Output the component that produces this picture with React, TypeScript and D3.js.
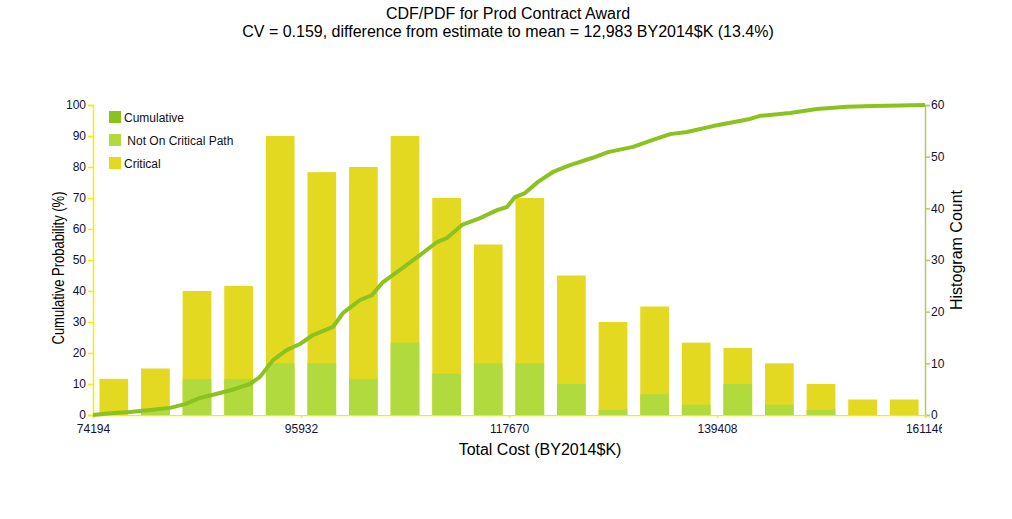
import React, { useEffect, useRef } from 'react';
import * as d3 from 'd3';

// histogram: 20 bins between the min and max cost
const binCount = 20;
const costMin = 74194;
const costMax = 161146;
const critical = [7, 8, 17, 18, 44, 37, 41, 40, 34, 23, 32, 21, 17, 17, 12, 7, 8, 5, 3, 3];
const notCritical = [0, 1, 7, 7, 10, 10, 7, 14, 8, 10, 10, 6, 1, 4, 2, 6, 2, 1, 0, 0];

// cumulative curve
const cumCost = [74194, 75971, 78061, 80151, 82241, 83809, 85377, 87467, 89035, 90602, 91647, 93006, 94469, 95827, 97186, 99276, 100321, 100739, 102098, 103352, 104502, 106278, 108369, 110145, 111190, 112758, 114639, 116416, 117461, 118297, 119342, 120701, 122268, 124045, 126344, 128016, 130629, 132406, 134496, 136273, 138990, 142857, 143902, 147037, 149859, 152995, 155712, 161146];
const cumPct = [0, 0.6, 1.0, 1.6, 2.3, 3.5, 5.5, 7.1, 8.4, 10.0, 12.3, 17.7, 21.0, 22.9, 25.8, 28.4, 32.9, 33.9, 37.1, 38.7, 42.9, 46.8, 51.6, 55.8, 57.1, 61.3, 63.5, 66.1, 67.1, 70.3, 71.6, 75.2, 78.4, 80.6, 82.9, 84.8, 86.5, 88.4, 90.6, 91.3, 93.2, 95.5, 96.5, 97.4, 98.7, 99.4, 99.7, 100];

const xTicks = [74194, 95932, 117670, 139408, 161146];
const pctTicks = [0, 10, 20, 30, 40, 50, 60, 70, 80, 90, 100];
const countTicks = [0, 10, 20, 30, 40, 50, 60];

const legendItems = [
  { label: 'Cumulative', color: '#8cc21f' },
  { label: ' Not On Critical Path', color: '#b1da3e' },
  { label: 'Critical', color: '#e2d920' },
];

const W = 1012;
const H = 519;
const left = 93;
const right = 925;
const top = 105;
const bottom = 415;
const font = 'Liberation Sans, Arial, sans-serif';

const App: React.FC = () => {
  const svgRef = useRef<SVGSVGElement>(null);

  useEffect(() => {
    if (!svgRef.current) return;
    const svg = d3.select(svgRef.current);
    svg.selectAll('*').remove();

    const x = d3.scaleLinear().domain([costMin, costMax]).range([left, right]);
    const yPct = d3.scaleLinear().domain([0, 100]).range([bottom, top]);
    const yCount = d3.scaleLinear().domain([0, 60]).range([bottom, top]);
    const binW = (costMax - costMin) / binCount;

    const bins = critical.map((c, i) => ({
      x0: costMin + i * binW,
      x1: costMin + (i + 1) * binW,
      nc: notCritical[i],
      total: c + notCritical[i],
    }));

    // title
    svg.append('text').attr('x', 508).attr('y', 19).attr('text-anchor', 'middle')
      .attr('font-family', font).attr('font-size', 16).text('CDF/PDF for Prod Contract Award');
    svg.append('text').attr('x', 508).attr('y', 37).attr('text-anchor', 'middle')
      .attr('font-family', font).attr('font-size', 16)
      .text('CV = 0.159, difference from estimate to mean = 12,983 BY2014$K (13.4%)');

    // bars
    const barFrac = 0.69;
    const bars = svg.append('g');
    bins.forEach(b => {
      const px0 = x(b.x0);
      const pw = x(b.x1) - px0;
      const bw = pw * barFrac;
      const bx = px0 + (pw - bw) / 2;
      bars.append('rect').attr('x', bx).attr('width', bw)
        .attr('y', yCount(b.total)).attr('height', bottom - yCount(b.total))
        .attr('fill', '#e2d920');
      if (b.nc > 0) {
        bars.append('rect').attr('x', bx).attr('width', bw)
          .attr('y', yCount(b.nc)).attr('height', bottom - yCount(b.nc))
          .attr('fill', '#b1da3e');
      }
    });

    // axes
    const leftAxis = svg.append('g').attr('transform', `translate(${left},0)`)
      .call(d3.axisLeft(yPct).tickValues(pctTicks).tickSize(5).tickPadding(2));
    leftAxis.selectAll('path, line').attr('stroke', '#f2f200').attr('stroke-width', 1.5);
    leftAxis.selectAll('text').attr('font-family', font).attr('font-size', 12).attr('fill', '#111133');

    const rightAxis = svg.append('g').attr('transform', `translate(${right},0)`)
      .call(d3.axisRight(yCount).tickValues(countTicks).tickSize(5).tickPadding(1));
    rightAxis.selectAll('path, line').attr('stroke', '#b3cc55').attr('stroke-width', 1.5);
    rightAxis.selectAll('text').attr('font-family', font).attr('font-size', 12).attr('fill', '#111133');

    svg.append('clipPath').attr('id', 'xclip').append('rect')
      .attr('x', 0).attr('y', 0).attr('width', 942).attr('height', H);
    const bottomAxis = svg.append('g').attr('transform', `translate(0,${bottom})`)
      .attr('clip-path', 'url(#xclip)')
      .call(d3.axisBottom(x).tickValues(xTicks).tickFormat(d3.format('d')).tickSize(3).tickPadding(6));
    bottomAxis.selectAll('path, line').attr('stroke', '#f2f200').attr('stroke-width', 1.5);
    bottomAxis.selectAll('text').attr('font-family', font).attr('font-size', 12).attr('fill', '#111133');

    // axis titles
    svg.append('text').attr('transform', `translate(64,${(top + bottom) / 2 + 8}) rotate(-90)`)
      .attr('text-anchor', 'middle').attr('font-family', font).attr('font-size', 16)
      .attr('textLength', 153).attr('lengthAdjust', 'spacingAndGlyphs')
      .text('Cumulative Probability (%)');
    svg.append('text').attr('transform', `translate(962,${(top + bottom) / 2 - 10}) rotate(-90)`)
      .attr('text-anchor', 'middle').attr('font-family', font).attr('font-size', 16)
      .text('Histogram Count');
    svg.append('text').attr('x', 540).attr('y', 455)
      .attr('text-anchor', 'middle').attr('font-family', font).attr('font-size', 16)
      .text('Total Cost (BY2014$K)');

    // cumulative line
    const line = d3.line<number>()
      .x((_, i) => x(cumCost[i]))
      .y(d => yPct(d));
    svg.append('path').datum(cumPct).attr('d', line)
      .attr('fill', 'none').attr('stroke', '#8cc21f').attr('stroke-width', 4)
      .attr('stroke-linejoin', 'round');

    // legend
    const lg = svg.append('g').attr('transform', 'translate(109,111)');
    legendItems.forEach((it, i) => {
      const g = lg.append('g').attr('transform', `translate(0,${i * 23})`);
      g.append('rect').attr('width', 12).attr('height', 12).attr('fill', it.color);
      g.append('text').attr('x', 15).attr('y', 10.5).attr('font-family', font)
        .attr('font-size', 12).attr('fill', '#111').attr('xml:space', 'preserve')
        .style('white-space', 'pre').text(it.label);
    });
  }, []);

  return (
    <svg ref={svgRef} width={W} height={H}
      style={{ position: 'absolute', left: 0, top: 0, background: '#fff' }} />
  );
};

export default App;
